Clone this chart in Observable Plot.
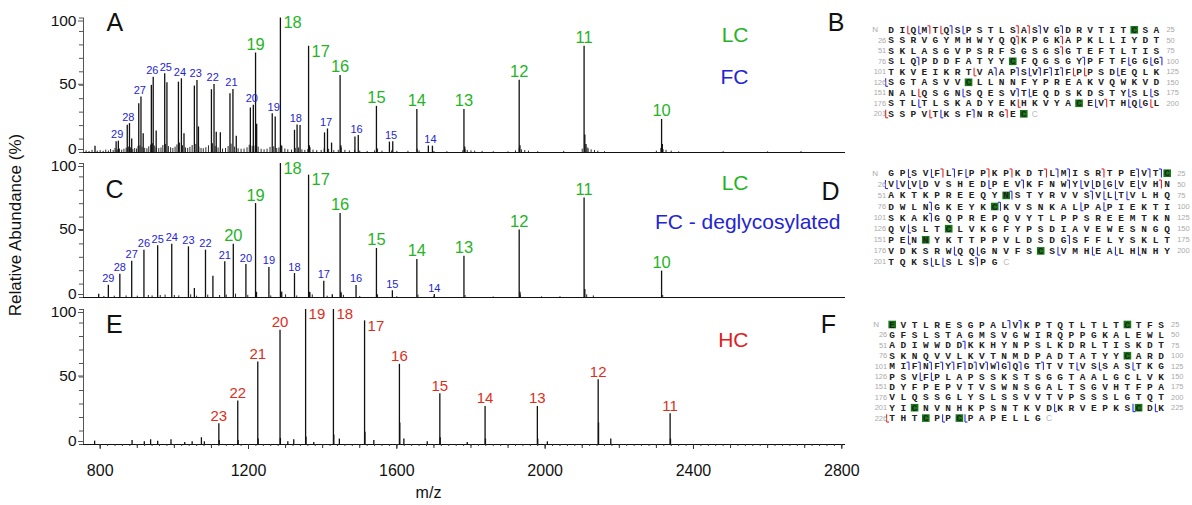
<!DOCTYPE html>
<html><head><meta charset="utf-8">
<script src="https://cdn.jsdelivr.net/npm/d3@7"></script>
<script src="https://cdn.jsdelivr.net/npm/@observablehq/plot@0.6"></script>
<style>
body{margin:0;background:#fff;}
#root{position:relative;width:1192px;height:505px;overflow:hidden;background:#fff;font-family:"Liberation Sans",Arial,Helvetica,sans-serif;}
#root svg{position:absolute;overflow:visible;}
#ytitle{position:absolute;left:16px;top:225px;transform:translate(-50%,-50%) rotate(-90deg);font-size:17px;white-space:nowrap;color:#111;}
</style></head><body><div id="root"><div id="ytitle">Relative Abundance (%)</div></div>
<script>
// ---------------- DATA ----------------
// Light chain (LC) charge states, m/z and relative heights
const lcCharges = [10, 11, 12, 13, 14, 15, 16, 17, 18, 19, 20];
const lcMz      = [2314, 2105, 1930, 1781, 1654, 1545, 1447, 1362, 1286, 1219, 1159];
const lcHeightA = [24.6, 79, 53.7, 32, 32, 34.3, 57.3, 79, 100, 74, null];
const lcHeightC = [19.7, 74.3, 50.4, 30.7, 28.4, 36.6, 62.7, 91.3, 100, 70.1, 39.8];

// FC (glycosylated) in A: [charge, mz1, h1, mz2, h2]
const fcA = [
  [29, 843, 7.9, 849, 8.4], [28, 873, 20.2, 879, 21.5], [27, 904, 36.3, 910, 41.2],
  [26, 938, 49.9, 943, 56], [25, 974, 58.5, 980, 51.9], [24, 1011, 52.3, 1019, 54.8],
  [23, 1054, 49.4, 1061, 53.6], [22, 1100, 46.7, 1107, 50.6], [21, 1150, 43.7, 1158, 46.9],
  [20, 1205, 33.1, 1213, 35.1], [19, 1264, 28.9, 1272, 26.4], [18, 1324, 16.5, 1331, 20.5],
  [17, 1405, 14.6, 1413, 17.5], [16, 1487, 11.6, 1496, 12.6], [15, 1580, 7.7, 1589, 7.9],
  [14, 1685, 4.9, 1696, 4.7]
];
// FC deglycosylated in C
const fcCharges = [29, 28, 27, 26, 25, 24, 23, 22, 21, 20, 19, 18, 17, 16, 15, 14];
const fcMzC     = [822, 853, 885, 918, 955, 993, 1038, 1084, 1136, 1193, 1255, 1324, 1403, 1490, 1588, 1701];
const fcHeightC = [9.2, 17.4, 27.1, 35.3, 38.6, 39.8, 37.8, 35.3, 26.6, 24.6, 22.4, 17.9, 12.2, 9, 5, 2.2];

// Heavy chain (HC) in E
const hcCharges = [11, 12, 13, 14, 15, 16, 17, 18, 19, 20, 21, 22, 23];
const hcMz      = [2337, 2143, 1979, 1838, 1716, 1607, 1513, 1429, 1354, 1285, 1225, 1171, 1120];
const hcHeight  = [22.8, 48, 28.2, 28.2, 37.6, 59.4, 91.6, 100, 100, 84.7, 61.1, 32.2, 15.3];

// unlabeled side peaks / shoulders [mz, height]
const extraA = [[1339,20],[1424,7],[885,10],[916,14],[951,16],[1026,14],[1065,19],[1113,15],[1124,14.6],[1167,12],[1222,21],[786,4.7],
  [2107,13],[2110,6],[1932,5],[2316,6],[1783,4],[1449,5],[1364,5],[1288,5]];
const extraC = [[796,2.5],[1054,6.7],[1104,15.9],[1426,2],[2107,6],[1932,4],[1364,4],[1288,4],[1221,4],[1449,4]];
const extraE = [[785,2.5],[886,3],[919,2],[936,3.5],[955,2.5],[991,3.5],[1028,1.5],[1048,2],[1073,5],[1081,2],[1306,2],[1322,3.5],
  [1376,1.5],[1445,4],[1538,3],[1619,4],[1682,2],[1790,1.5],[2006,2],[2177,4],
  [1608,16],[1514,9],[1430,7],[1355,5.5],[1286,4.5],[1226,4],[2144,16],[1839,4],[1980,4],[2338,4],[1717,5],[1121,3],[1172,3]];

// baseline noise [mz, height]
const noiseA = [[762,1.2],[770,0.8],[778,1.6],[792,1.0],[800,1.4],[808,0.9],[815,1.8],[822,1.1],[828,2.2],[835,1.5],[840,3.0],[846,2.0],
  [852,2.6],[858,1.7],[864,2.4],[870,3.2],[876,4.0],[882,3.5],[888,2.2],[893,3.0],[898,2.6],[902,4.4],[907,5.0],[913,3.8],[920,3.1],
  [926,2.8],[931,4.2],[936,5.5],[941,6.5],[946,4.8],[951,3.6],[958,2.9],[964,3.4],[969,5.2],[976,6.0],[984,4.4],[990,3.5],[996,3.0],
  [1002,4.0],[1007,5.6],[1014,7.0],[1022,5.0],[1030,3.4],[1036,3.0],[1042,3.8],[1048,5.2],[1058,6.0],[1066,4.0],[1072,3.0],[1078,2.8],
  [1085,3.6],[1092,5.0],[1103,6.5],[1110,4.5],[1118,3.4],[1130,2.6],[1138,3.0],[1145,4.5],[1153,6.2],[1162,4.0],[1172,2.8],[1180,2.4],
  [1188,2.6],[1196,3.5],[1202,5.4],[1210,4.6],[1218,4.8],[1226,4.0],[1234,2.4],[1242,2.0],[1250,2.5],[1258,3.8],[1268,4.2],[1276,3.0],
  [1282,3.4],[1290,4.6],[1298,2.6],[1306,2.0],[1316,1.8],[1326,3.0],[1335,3.4],[1344,2.0],[1352,1.6],[1360,2.2],[1366,3.6],[1374,1.8],
  [1384,1.4],[1396,1.5],[1404,2.6],[1416,2.4],[1430,1.4],[1442,1.6],[1450,3.4],[1460,1.6],[1472,1.2],[1486,1.6],[1500,1.0],[1520,0.8],
  [1540,1.2],[1548,2.6],[1560,1.0],[1586,1.2],[1600,0.8],[1630,0.9],[1655,2.4],[1660,1.2],[1700,0.8],[1735,0.6],[1778,1.4],[1784,2.4],
  [1790,1.5],[1800,1.2],[1810,1.0],[1830,0.8],[1860,0.6],[1900,0.5],[1920,1.2],[1930,3.0],[1936,2.0],[1945,1.5],[1955,1.0],[1980,0.6],
  [2050,0.8],[2100,2.5],[2113,3.5],[2116,2.8],[2124,2.0],[2133,1.5],[2142,1.0],[2160,0.6],[2300,1.0],[2312,3.0],[2318,2.2],[2326,1.6],
  [2340,1.0],[2360,0.5],[2480,0.6],[2600,0.5],[2690,0.7]];
const noiseC = [[810,0.8],[838,1.0],[870,1.2],[900,1.0],[930,1.5],[940,1.2],[962,1.5],[975,1.8],[1000,1.5],[1012,1.2],[1044,2.0],
  [1060,1.0],[1090,1.8],[1122,1.5],[1140,1.8],[1165,2.5],[1198,1.6],[1222,3.5],[1260,1.2],[1290,4.0],[1300,2.0],[1330,1.2],[1366,3.6],
  [1372,2.0],[1412,1.0],[1450,3.0],[1456,1.6],[1500,0.8],[1548,2.0],[1600,0.6],[1657,1.8],[1700,0.6],[1784,1.5],[1860,0.4],[1933,2.0],
  [1990,0.5],[2040,0.6],[2112,2.0],[2130,1.2],[2317,1.5]];

// sequences (25 residues per row) with green-boxed residues [row, col] and cleavage markers [row, after, color, hook]
const seqB = ["DIQMTQSPSTLSASVGDRVTITCSA","SSRVGYMHWYQQKPGKAPKLLIYDT","SKLASGVPSRFSGSGSGTEFTLTIS",
  "SLQPDDFATYYCFQGSGYPFTFGGG","TKVEIKRTVAAPSVFIFPPSDEQLK","SGTASVVCLLNNFYPREAKVQWKVD",
  "NALQSGNSQESVTEQDSKDSTYSLS","STLTLSKADYEKHKVYACEVTHQGL","SSPVTKSFNRGEC"];
const boxesB = [[1,23],[4,12],[6,8],[8,18],[9,13]];
const markersB = [[1,2,"r","b"],[1,3,"b","b"],[1,4,"r","t"],[1,5,"r","b"],[1,6,"b","t"],[1,7,"b","b"],[1,12,"r","t"],[1,13,"r","t"],
  [1,14,"b","t"],[1,16,"b","t"],[2,12,"r","t"],[2,16,"r","t"],[3,16,"r","t"],[4,3,"b","t"],[4,18,"b","t"],[4,22,"b","b"],
  [4,24,"b","b"],[4,25,"b","t"],[5,8,"r","b"],[5,10,"b","t"],[5,12,"b","t"],[5,13,"b","b"],[5,14,"b","t"],[5,15,"b","t"],
  [5,16,"b","t"],[5,17,"r","b"],[5,18,"r","b"],[5,21,"b","b"],[6,0,"b","b"],[7,3,"r","b"],[7,7,"b","b"],[7,12,"b","t"],
  [7,13,"b","b"],[7,22,"b","b"],[7,24,"b","b"],[8,3,"b","b"],[8,12,"r","b"],[8,19,"b","b"],[8,20,"r","t"],[8,22,"b","b"],
  [8,23,"b","b"],[8,24,"r","b"],[9,0,"r","b"],[9,4,"r","b"],[9,5,"b","b"],[9,8,"b","t"],[9,11,"r","t"]];

const seqD = ["GPSVFLFPPKPKDTLMISRTPEVTC","VVVDVSHEDPEVKFNWYVDGVEVHN","AKTKPREEQYNSTYRVVSVLTVLHQ",
  "DWLNGKEYKCKVSNKALPAPIEKTI","SKAKGQPREPQVYTLPPSREEMTKN","QVSLTCLVKGFYPSDIAVEWESNGQ",
  "PENNYKTTPPVLDSDGSFFLYSKLT","VDKSRWQQGNVFSCSVMHEALHNHY","TQKSLSLSPG"];
const boxesD = [[1,25],[3,11],[4,10],[6,6],[7,4],[8,14]];
const markersD = [[1,2,"b","b"],[1,4,"b","b"],[1,5,"r","t"],[1,6,"b","t"],[1,7,"b","b"],[1,9,"r","t"],[1,11,"r","t"],[1,14,"r","t"],
  [1,15,"b","t"],[1,16,"b","t"],[1,19,"r","t"],[1,22,"b","t"],[1,23,"b","t"],[1,24,"b","t"],[2,0,"b","b"],[2,1,"b","b"],
  [2,2,"b","b"],[2,3,"b","b"],[2,9,"b","b"],[2,12,"b","t"],[2,16,"b","t"],[2,17,"b","b"],[2,18,"b","b"],[2,19,"b","b"],
  [2,20,"b","b"],[2,22,"b","b"],[2,24,"r","t"],[3,11,"b","t"],[3,18,"b","t"],[3,19,"b","b"],[3,20,"b","b"],[3,21,"b","b"],
  [4,4,"b","t"],[4,10,"b","t"],[4,17,"b","b"],[4,19,"b","b"],[5,4,"b","t"],[6,2,"b","b"],[7,2,"b","b"],[7,16,"b","t"],
  [8,6,"b","b"],[8,8,"b","b"],[8,15,"b","b"],[8,18,"b","b"],[8,20,"b","b"],[8,22,"b","b"],[9,4,"b","b"],[9,5,"b","b"],[9,8,"b","t"]];

const seqF = ["EVTLRESGPALVKPTQTLTLTCTFS","GFSLSTAGMSVGWIRQPPGKALEWL","ADIWWDDKKHYNPSLKDRLTISKDT",
  "SKNQVVLKVTNMDPADTATYYCARD","MIFNFYFDVWGQGTTVTVSSASTKG","PSVFPLAPSSKSTSGGTAALGCLVK",
  "DYFPEPVTVSWNSGALTSGVHTFPA","VLQSSGLYSLSSVVTVPSSSLGTQT","YICNVNHKPSNTKVDKRVEPKSCDK","THTCPPCPAPELLG"];
const boxesF = [[1,1],[1,22],[4,22],[9,3],[9,23],[10,4],[10,7]];
const markersF = [[1,11,"b","t"],[1,12,"b","t"],[3,7,"b","t"],[5,2,"b","t"],[5,3,"b","t"],[5,4,"b","t"],[5,5,"b","t"],[5,6,"b","t"],
  [5,7,"b","t"],[5,8,"b","t"],[5,9,"b","t"],[5,10,"b","t"],[5,11,"b","t"],[5,12,"b","t"],[5,14,"b","t"],[5,17,"b","b"],
  [5,19,"b","b"],[5,22,"b","b"],[6,3,"b","b"],[6,4,"b","b"],[9,15,"b","b"],[9,22,"b","b"],[9,24,"b","b"],[10,0,"r","b"],
  [10,5,"b","b"],[10,7,"b","b"]];

const xTicksMajor = [800, 1200, 1600, 2000, 2400, 2800];
const yTicksMajor = [0, 50, 100];

// ---------------- STYLE ----------------
const FONT = '"Liberation Sans", Arial, Helvetica, sans-serif';
const GREEN = "#27b327", BLUE = "#2424d4", RED = "#dd2e1c";
const MCOL = {r: "#e0282c", b: "#3030e0"};
const xDomain = [755, 2810];
const root = document.getElementById("root");

function place(svg, left, top) {
  svg.style.left = left + "px";
  svg.style.top = top + "px";
  root.appendChild(svg);
}

function labelMarks(items, color, size, rightSet) {
  const above = items.filter(d => !rightSet.includes(d.z));
  const right = items.filter(d => rightSet.includes(d.z));
  return [
    Plot.text(above, {x: "mz", y: "h", text: d => String(d.z), fill: color, fontSize: size, fontFamily: FONT, lineAnchor: "bottom", dy: -3}),
    Plot.text(right, {x: "mz", y: "h", text: d => String(d.z), fill: color, fontSize: size, fontFamily: FONT, textAnchor: "start", lineAnchor: "middle", dx: 3, dy: 5})
  ];
}

function note(t, o) {
  return Plot.text([t], {text: d => d, fontFamily: FONT, lineAnchor: "middle", ...o});
}

function spectrum({height, marginTop, marginBottom, peaks, noise, labels, notes, xAxis}) {
  const yText = {tickSize: 5, tickPadding: 2, fontSize: 15.5, fontFamily: FONT, fill: "#111", stroke: "#555", tickFormat: "d", label: null};
  const marks = [
    Plot.ruleX(noise, {x: d => d[0], y1: 0, y2: d => d[1], stroke: "#111", strokeWidth: 0.9}),
    Plot.ruleX(peaks, {x: "mz", y1: 0, y2: "h", stroke: "#111", strokeWidth: 1.3}),
    Plot.ruleY([0], {stroke: "#111", strokeWidth: 1}),
    Plot.ruleX([xDomain[0]], {y1: 0, y2: 100, stroke: "#555", strokeWidth: 1}),
    Plot.axisY(d3.range(0, 101, 10), {tickSize: 4, fill: "none", stroke: "#555", label: null}),
    Plot.axisY(yTicksMajor.slice(0, 1), {...yText, dy: -3}),
    Plot.axisY(yTicksMajor.slice(1, 2), {...yText, dy: -1}),
    Plot.axisY(yTicksMajor.slice(2, 3), {...yText, dy: 3}),
    ...labels,
    ...notes
  ];
  if (xAxis) {
    marks.push(
      Plot.axisX(d3.range(800, 2801, 20), {tickSize: 2, fill: "none", stroke: "#333", label: null}),
      Plot.axisX(d3.range(800, 2801, 100), {tickSize: 4, fill: "none", stroke: "#333", label: null}),
      Plot.axisX(xTicksMajor, {tickSize: 5, tickPadding: 15, fontSize: 16, fontFamily: FONT, fill: "#111", stroke: "#333", tickFormat: "d", label: null})
    );
  }
  return Plot.plot({
    width: 860, height, marginTop, marginBottom, marginLeft: 83, marginRight: 15,
    x: xAxis ? {domain: xDomain} : {domain: xDomain, axis: null},
    y: {domain: [0, 100]},
    style: {fontFamily: FONT, fontSize: "16px", background: "transparent", overflow: "visible", color: "#111"},
    marks
  });
}

const pairs = (arr) => arr.map(([mz, h]) => ({mz, h}));

// ----- Panel A -----
const lcA = lcCharges.map((z, i) => ({z, mz: lcMz[i], h: lcHeightA[i]})).filter(d => d.h != null);
const fcPeaksA = fcA.flatMap(([z, m1, h1, m2, h2]) => [{mz: m1, h: h1}, {mz: m2, h: h2}]);
const fcLabA = fcA.map(([z, m1, h1, m2, h2]) => ({z, mz: (m1 + m2) / 2, h: Math.max(h1, h2)}));
const svgA = spectrum({
  height: 160, marginTop: 17.5, marginBottom: 8,
  peaks: [...lcA, ...fcPeaksA, ...pairs(extraA)],
  noise: noiseA,
  labels: [...labelMarks(lcA, GREEN, 16.5, [18, 17]), ...labelMarks(fcLabA, BLUE, 11, [])],
  notes: [
    note("A", {frameAnchor: "top-left", dx: 23, dy: 5, fontSize: 25, fill: "#111"}),
    note("LC", {frameAnchor: "top-right", dx: -97, dy: 17.5, fontSize: 21, fill: GREEN}),
    note("FC", {frameAnchor: "top-right", dx: -97, dy: 59.5, fontSize: 21, fill: BLUE}),
    note("B", {frameAnchor: "top-right", dx: -1, dy: 5, fontSize: 25, fill: "#111"})
  ]
});
place(svgA, 0, 0);

// ----- Panel C -----
const lcC = lcCharges.map((z, i) => ({z, mz: lcMz[i], h: lcHeightC[i]}));
const fcC = fcCharges.map((z, i) => ({z, mz: fcMzC[i], h: fcHeightC[i]}));
const svgC = spectrum({
  height: 160, marginTop: 17, marginBottom: 9,
  peaks: [...lcC, ...fcC, ...pairs(extraC)],
  noise: noiseC,
  labels: [...labelMarks(lcC, GREEN, 16.5, [18, 17]), ...labelMarks(fcC, BLUE, 11, [])],
  notes: [
    note("C", {frameAnchor: "top-left", dx: 22, dy: 26, fontSize: 25, fill: "#111"}),
    note("LC", {frameAnchor: "top-right", dx: -97, dy: 20, fontSize: 21, fill: GREEN}),
    note("FC - deglycosylated", {frameAnchor: "top-right", dx: -5, dy: 59, fontSize: 21, fill: BLUE, textAnchor: "end"}),
    note("D", {frameAnchor: "top-right", dx: -6, dy: 28, fontSize: 25, fill: "#111"})
  ]
});
place(svgC, 0, 146);

// ----- Panel E -----
const hc = hcCharges.map((z, i) => ({z, mz: hcMz[i], h: hcHeight[i]}));
const svgE = spectrum({
  height: 213, marginTop: 17, marginBottom: 61,
  peaks: [...hc, ...pairs(extraE)],
  noise: [],
  labels: labelMarks(hc, RED, 15, [19, 18, 17]),
  notes: [
    note("E", {frameAnchor: "top-left", dx: 22.5, dy: 15.5, fontSize: 25, fill: "#111"}),
    note("HC", {frameAnchor: "top-right", dx: -97, dy: 31, fontSize: 21, fill: "#e02020"}),
    note("F", {frameAnchor: "top-right", dx: -9.5, dy: 15, fontSize: 25, fill: "#111"}),
    note("m/z", {frameAnchor: "bottom", dx: -36, dy: 48, fontSize: 16, fill: "#111"})
  ],
  xAxis: true
});
place(svgE, 0, 292);

// ----- Sequence panels -----
function seqPanel({top, rows, boxes, markers, col1, colSp, row1, rowSp}) {
  const left = 860, width = 332;
  const n = rows.length;
  const mT = row1 - top;
  const yBot = row1 + (n - 1) * rowSp - top;
  const height = yBot + 18;
  const mL = col1 - left;
  const mR = width - (col1 + 24 * colSp - left);
  const residues = rows.flatMap((s, i) => [...s].map((aa, j) => ({row: i + 1, col: j + 1, aa})));
  const leftNums = rows.map((s, i) => ({row: i + 1, t: i === 0 ? "" : String(25 * i + 1)}));
  const rightNums = rows.map((s, i) => ({row: i + 1, t: String(25 * (i + 1)), full: s.length === 25})).filter(d => d.full);
  const last = {row: n, col: rows[n - 1].length + 1};
  const boxData = boxes.map(([row, col]) => ({row, col}));
  const h = 0.38, hook = 0.22;
  const segs = markers.flatMap(([row, after, c, kind]) => {
    const x = after + 0.5;
    const color = MCOL[c];
    const v = {x1: x, y1: row - h, x2: x, y2: row + h, color};
    const k = kind === "b"
      ? {x1: x, y1: row + h, x2: x + hook, y2: row + h, color}
      : {x1: x, y1: row - h, x2: x - hook, y2: row - h, color};
    return [v, k];
  });
  const svg = Plot.plot({
    width, height, marginTop: mT, marginBottom: height - yBot, marginLeft: mL, marginRight: mR,
    x: {domain: [1, 25], axis: null},
    y: {domain: [1, n], reverse: true, axis: null},
    style: {background: "transparent", overflow: "visible"},
    marks: [
      Plot.dot(boxData, {x: "col", y: "row", symbol: "square", r: 4.3, fill: "#157a15"}),
      Plot.link(segs, {x1: "x1", y1: "y1", x2: "x2", y2: "y2", stroke: "color", strokeWidth: 1.1}),
      Plot.text(residues, {x: "col", y: "row", text: "aa", fontFamily: '"Liberation Mono", "Courier New", monospace', fontWeight: "bold", fontSize: 9.5, fill: "#222"}),
      Plot.text([{row: 1}], {x: () => 1, y: "row", text: () => "N", dx: -16, fontFamily: FONT, fontSize: 8, fill: "#aaa"}),
      Plot.text(leftNums, {x: () => 1, y: "row", text: "t", dx: -5, textAnchor: "end", fontFamily: FONT, fontSize: 7.5, fill: "#aaa"}),
      Plot.text(rightNums, {x: () => 25, y: "row", text: "t", dx: 10, textAnchor: "start", fontFamily: FONT, fontSize: 7.5, fill: "#aaa"}),
      Plot.text([last], {x: "col", y: "row", text: () => "C", fontFamily: FONT, fontSize: 8.5, fill: "#bbb"})
    ]
  });
  place(svg, left, top);
}

seqPanel({top: 10, rows: seqB, boxes: boxesB, markers: markersB, col1: 890.7, colSp: 11.05, row1: 29.3, rowSp: 10.5});
seqPanel({top: 155, rows: seqD, boxes: boxesD, markers: markersD, col1: 890.7, colSp: 11.5, row1: 172.7, rowSp: 11.1});
seqPanel({top: 305, rows: seqF, boxes: boxesF, markers: markersF, col1: 891.7, colSp: 11.2, row1: 324, rowSp: 10.4});
</script></body></html>
